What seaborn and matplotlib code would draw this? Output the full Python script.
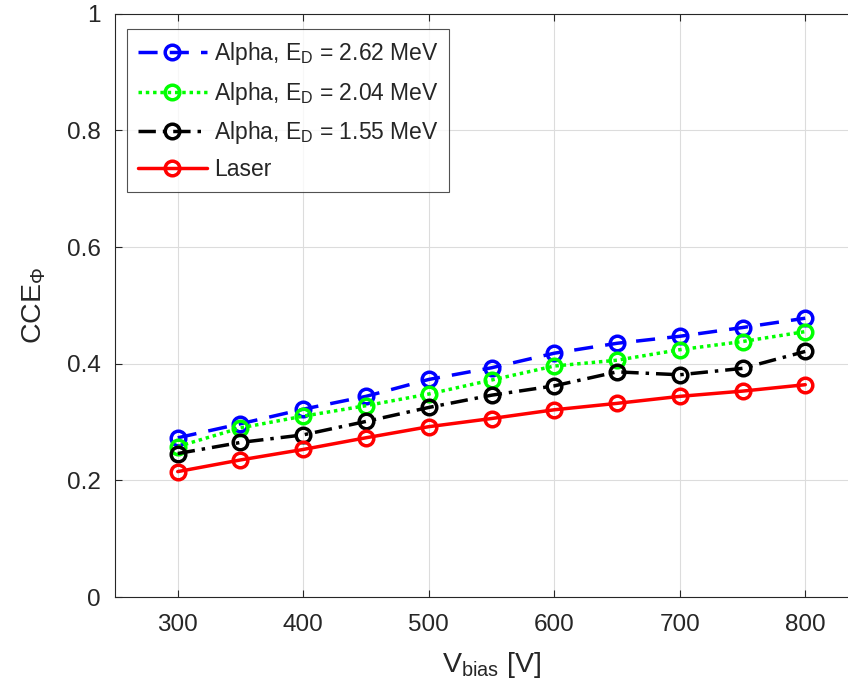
import numpy as np
import pandas as pd
import matplotlib
matplotlib.use("Agg")
import matplotlib.pyplot as plt
import seaborn as sns

vbias = [300, 350, 400, 450, 500, 550, 600, 650, 700, 750, 800]
alpha_262 = [0.273, 0.297, 0.322, 0.344, 0.373, 0.393, 0.418, 0.435, 0.447, 0.462, 0.478]
alpha_204 = [0.258, 0.290, 0.310, 0.328, 0.348, 0.372, 0.396, 0.406, 0.424, 0.438, 0.455]
alpha_155 = [0.246, 0.265, 0.278, 0.301, 0.325, 0.346, 0.362, 0.386, 0.381, 0.392, 0.421]
laser = [0.215, 0.235, 0.253, 0.273, 0.292, 0.306, 0.321, 0.332, 0.344, 0.353, 0.364]

labels = [r"Alpha, E$_\mathregular{D}$ = 2.62 MeV",
          r"Alpha, E$_\mathregular{D}$ = 2.04 MeV",
          r"Alpha, E$_\mathregular{D}$ = 1.55 MeV",
          "Laser"]
series = [alpha_262, alpha_204, alpha_155, laser]
colors = ["#0000ff", "#00ff00", "#000000", "#ff0000"]
styles = [(0, (5.5, 3.5)), (0, (1, 1.1)), (0, (5, 2, 1, 2)), "-"]

sns.set_theme(style="whitegrid")
plt.rcParams['font.family'] = ['Liberation Sans', 'DejaVu Sans']
plt.rcParams['mathtext.fontset'] = 'custom'
plt.rcParams['mathtext.rm'] = 'Liberation Sans'
plt.rcParams['mathtext.it'] = 'Liberation Sans'

fig = plt.figure(figsize=(8.48, 6.87), dpi=100)
ax = fig.add_axes([0.1356, 0.131, 0.888, 0.849])

for lab, vals, c, ls in zip(labels, series, colors, styles):
    df = pd.DataFrame({"V": vbias, "CCE": vals})
    sns.lineplot(data=df, x="V", y="CCE", ax=ax, color=c, linestyle=ls,
                 linewidth=2.5, marker="o", markersize=10.5, markerfacecolor="none",
                 markeredgecolor=c, markeredgewidth=2.5, label=lab)

ax.set_xlim(250, 850)
ax.set_ylim(0, 1)
ax.set_xticks([300, 400, 500, 600, 700, 800])
ax.set_yticks([0, 0.2, 0.4, 0.6, 0.8, 1.0])
ax.set_yticklabels(["0", "0.2", "0.4", "0.6", "0.8", "1"])
ax.tick_params(axis="both", labelsize=17.5, colors="#262626", direction="in",
               length=5, width=0.8)
ax.tick_params(axis="x", pad=12)
ax.tick_params(axis="y", pad=10)
ax.tick_params(top=True, bottom=True, left=True)
ax.grid(True, color="#dcdcdc", linewidth=0.8)
ax.set_facecolor("white")
for s in ["left", "bottom", "top"]:
    ax.spines[s].set_visible(True)
    ax.spines[s].set_color("#262626")
    ax.spines[s].set_linewidth(0.8)
ax.set_xlabel(r"V$_\mathregular{bias}$ [V]", fontsize=20.5, color="#262626", labelpad=10)
ax.set_ylabel(r"CCE$_\Phi$", fontsize=20.5, color="#262626", labelpad=14)

leg = ax.legend(loc="upper left", bbox_to_anchor=(0.016, 0.973), fontsize=16.5,
                frameon=True, fancybox=False, edgecolor="#262626",
                handlelength=3.0, handletextpad=0.3, borderpad=0.48,
                labelspacing=0.53, borderaxespad=0)
leg.get_frame().set_linewidth(0.8)

fig.savefig("out.png", dpi=100)
